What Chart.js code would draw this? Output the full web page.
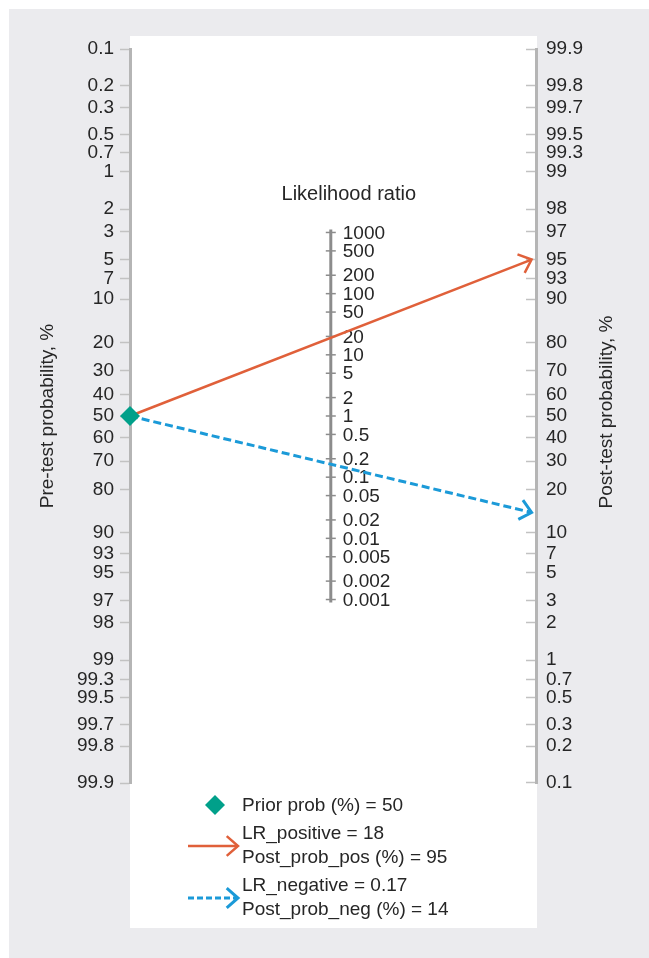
<!DOCTYPE html>
<html>
<head>
<meta charset="utf-8">
<title>Fagan nomogram</title>
<script src="https://cdn.jsdelivr.net/npm/chart.js@4/dist/chart.umd.min.js"></script>
<style>
  html, body { margin: 0; padding: 0; background: #fff; }
  #wrap { position: relative; width: 649px; height: 958px; }
</style>
</head>
<body>
<div id="wrap"><canvas id="fagan"></canvas></div>
<script>
// axis tick values (percent / ratio)
const preTicks  = [0.1, 0.2, 0.3, 0.5, 0.7, 1, 2, 3, 5, 7, 10, 20, 30, 40, 50, 60, 70, 80, 90, 93, 95, 97, 98, 99, 99.3, 99.5, 99.7, 99.8, 99.9];
const postTicks = [99.9, 99.8, 99.7, 99.5, 99.3, 99, 98, 97, 95, 93, 90, 80, 70, 60, 50, 40, 30, 20, 10, 7, 5, 3, 2, 1, 0.7, 0.5, 0.3, 0.2, 0.1];
const lrTicks   = [1000, 500, 200, 100, 50, 20, 10, 5, 2, 1, 0.5, 0.2, 0.1, 0.05, 0.02, 0.01, 0.005, 0.002, 0.001];

// results
const priorProb = [50];
const lrNames   = ['LR_positive', 'LR_negative'];
const lrValues  = [18, 0.17];
const postNames = ['Post_prob_pos', 'Post_prob_neg'];
const postProb  = [95, 14];

const TEAL = '#00a08a', ORANGE = '#e0603a', BLUE = '#1b9ad8';
const TXT = '#262626';
const FONT = "'Liberation Sans', Arial, sans-serif";
const FS = 19;

// nomogram coordinates: pre axis runs downwards, post axis upwards, LR axis at half scale
const logit = p => Math.log(p / (100 - p));
const preV  = p => -logit(p);
const postV = p => logit(p);
const lrV   = r => Math.log(r) / 2;
const V_MAX = logit(99.9);

Chart.defaults.font.family = FONT;
Chart.defaults.font.size = FS;
Chart.defaults.color = TXT;

function chevron(ctx, x0, y0, x1, y1, color, width) {
  const a = Math.atan2(y1 - y0, x1 - x0), len = 15, spread = 0.72;
  ctx.save();
  ctx.setLineDash([]);
  ctx.strokeStyle = color; ctx.lineWidth = width;
  ctx.beginPath();
  ctx.moveTo(x1 + len * Math.cos(a + Math.PI - spread), y1 + len * Math.sin(a + Math.PI - spread));
  ctx.lineTo(x1, y1);
  ctx.lineTo(x1 + len * Math.cos(a + Math.PI + spread), y1 + len * Math.sin(a + Math.PI + spread));
  ctx.stroke();
  ctx.restore();
}

const panelBg = {
  id: 'panelBg',
  beforeDraw(chart) {
    const {ctx, chartArea: a} = chart;
    ctx.save();
    ctx.fillStyle = '#ebebee';
    ctx.fillRect(9, 9, chart.width - 9, chart.height - 9);
    ctx.fillStyle = '#fff';
    ctx.fillRect(a.left, a.top - 13, a.right - a.left + 1, a.bottom - a.top + 158);
    ctx.restore();
  }
};

const lrAxis = {
  id: 'lrAxis',
  beforeDatasetsDraw(chart) {
    const {ctx} = chart;
    const ys = chart.scales.yL;
    const cx = chart.scales.x.getPixelForValue(0.5);
    const top = ys.getPixelForValue(lrV(lrTicks[0]));
    const bot = ys.getPixelForValue(lrV(lrTicks[lrTicks.length - 1]));
    ctx.save();
    ctx.strokeStyle = '#8c8c8c';
    ctx.lineWidth = 3;
    ctx.beginPath(); ctx.moveTo(cx, top - 3); ctx.lineTo(cx, bot + 3); ctx.stroke();
    ctx.lineWidth = 1.5;
    ctx.fillStyle = TXT;
    ctx.font = FS + 'px ' + FONT;
    ctx.textAlign = 'left'; ctx.textBaseline = 'middle';
    lrTicks.forEach(r => {
      const y = ys.getPixelForValue(lrV(r));
      ctx.beginPath(); ctx.moveTo(cx - 5, y); ctx.lineTo(cx + 5, y); ctx.stroke();
      ctx.fillText(String(r), cx + 12, y + 1);
    });
    ctx.textAlign = 'center';
    ctx.font = '20px ' + FONT;
    ctx.fillText('Likelihood ratio', cx + 18, top - 38);
    ctx.restore();
  }
};

const arrows = {
  id: 'arrows',
  afterDatasetsDraw(chart) {
    chart.data.datasets.forEach((ds, i) => {
      if (!ds.arrow) return;
      const pts = chart.getDatasetMeta(i).data;
      const p0 = pts[pts.length - 2], p1 = pts[pts.length - 1];
      chevron(chart.ctx, p0.x, p0.y, p1.x, p1.y, ds.borderColor, ds.borderWidth);
    });
  }
};

const sideText = {
  id: 'sideText',
  afterDraw(chart) {
    const {ctx, chartArea: a} = chart;
    const yr = chart.scales.yR;
    ctx.save();
    ctx.fillStyle = TXT;
    ctx.font = FS + 'px ' + FONT;
    // right axis title, reading upwards
    ctx.translate(yr.left + 71, (yr.top + yr.bottom) / 2 - 4);
    ctx.rotate(-Math.PI / 2);
    ctx.textAlign = 'center'; ctx.textBaseline = 'middle';
    ctx.fillText('Post-test probability, %', 0, 0);
    ctx.restore();

    // legend
    ctx.save();
    ctx.font = FS + 'px ' + FONT;
    ctx.fillStyle = TXT;
    ctx.textAlign = 'left'; ctx.textBaseline = 'middle';
    const tx = a.left + 112;
    const dx = a.left + 85, dy = a.bottom + 22;
    ctx.fillStyle = TEAL;
    ctx.beginPath();
    ctx.moveTo(dx, dy - 10); ctx.lineTo(dx + 10, dy); ctx.lineTo(dx, dy + 10); ctx.lineTo(dx - 10, dy);
    ctx.closePath(); ctx.fill();
    ctx.fillStyle = TXT;
    ctx.fillText('Prior prob (%) = ' + priorProb[0], tx, dy + 1);

    const rows = [{y: a.bottom + 63, color: ORANGE, dash: [], w: 2.5},
                  {y: a.bottom + 115, color: BLUE, dash: [6, 3], w: 3}];
    rows.forEach((r, i) => {
      ctx.save();
      ctx.strokeStyle = r.color; ctx.lineWidth = r.w; ctx.setLineDash(r.dash);
      ctx.beginPath(); ctx.moveTo(a.left + 58, r.y); ctx.lineTo(a.left + 108, r.y); ctx.stroke();
      ctx.restore();
      chevron(ctx, a.left + 58, r.y, a.left + 108, r.y, r.color, r.w);
      ctx.fillText(lrNames[i] + ' = ' + lrValues[i], tx, r.y - 12);
      ctx.fillText(postNames[i] + ' (%) = ' + postProb[i], tx, r.y + 12);
    });
    ctx.restore();
  }
};

const startPt = {x: 0, y: preV(priorProb[0])};

new Chart(document.getElementById('fagan'), {
  type: 'scatter',
  data: {
    datasets: [
      { label: 'Prior prob', data: [startPt], pointStyle: 'rectRot', pointRadius: 10, pointHoverRadius: 10,
        backgroundColor: TEAL, borderWidth: 0, clip: false, yAxisID: 'yL' },
      { label: lrNames[0], data: [startPt, {x: 1, y: postV(postProb[0])}], showLine: true,
        borderColor: ORANGE, borderWidth: 2.5, pointRadius: 0, clip: false, arrow: true, yAxisID: 'yL' },
      { label: lrNames[1], data: [startPt, {x: 1, y: postV(postProb[1])}], showLine: true,
        borderColor: BLUE, borderWidth: 3, borderDash: [8, 4], pointRadius: 0, clip: false, arrow: true, yAxisID: 'yL' }
    ]
  },
  options: {
    responsive: true,
    maintainAspectRatio: false,
    animation: false,
    events: [],
    layout: { padding: { left: 9, right: 0, top: 49, bottom: 175 } },
    plugins: { legend: { display: false }, tooltip: { enabled: false } },
    scales: {
      x: { type: 'linear', min: 0, max: 1.011, display: false },
      yL: {
        type: 'linear', position: 'left', min: -V_MAX, max: V_MAX,
        afterBuildTicks: s => { s.ticks = preTicks.map(p => ({value: preV(p)})); },
        afterFit: s => { s.width = 121; },
        ticks: { autoSkip: false, padding: 6, color: TXT, font: {size: FS},
                 callback: (v, i) => String(preTicks[i]) },
        grid: { drawOnChartArea: false, tickLength: 10, tickColor: '#c2c2c2', tickWidth: 1.5 },
        border: { color: '#b5b5b5', width: 3 },
        title: { display: true, text: 'Pre-test probability, %', color: TXT, font: {size: FS}, padding: {top: 27, bottom: 0} }
      },
      yR: {
        type: 'linear', position: 'right', min: -V_MAX, max: V_MAX,
        afterBuildTicks: s => { s.ticks = postTicks.map(p => ({value: postV(p)})); },
        afterFit: s => { s.width = 113; },
        ticks: { autoSkip: false, padding: 20, color: TXT, font: {size: FS},
                 callback: (v, i) => String(postTicks[i]) },
        grid: { drawOnChartArea: false, tickLength: -10, tickColor: '#c2c2c2', tickWidth: 1.5 },
        border: { color: '#b5b5b5', width: 3 }
      }
    }
  },
  plugins: [panelBg, lrAxis, arrows, sideText]
});
</script>
</body>
</html>
